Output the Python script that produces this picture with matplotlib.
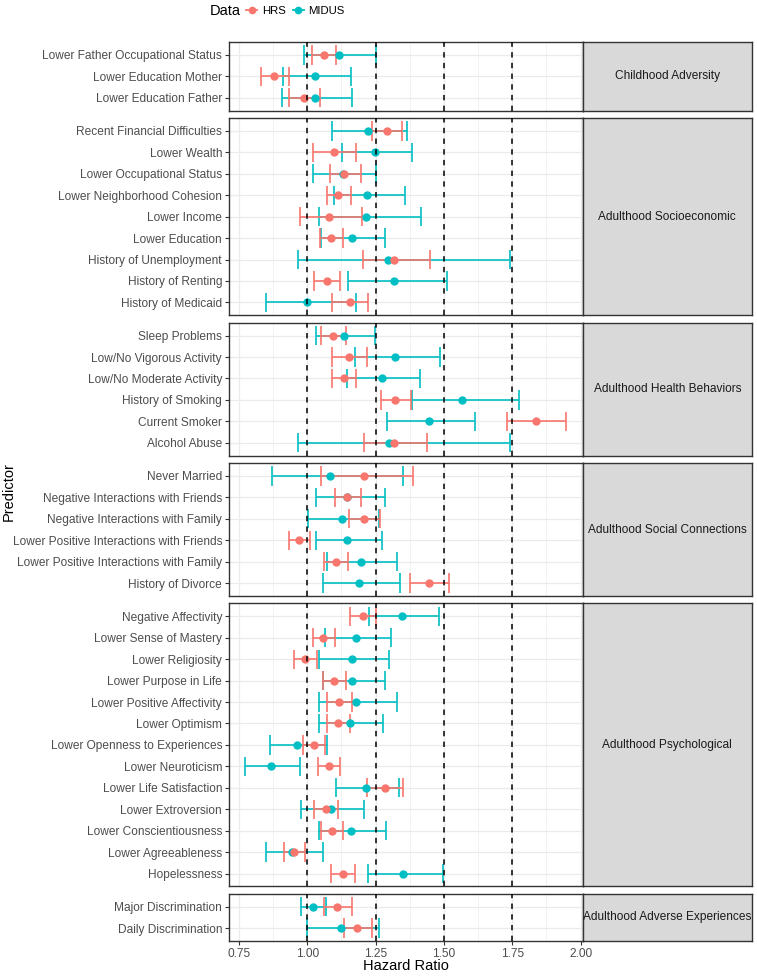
import numpy as np
import matplotlib
matplotlib.use("Agg")
import matplotlib.pyplot as plt
from matplotlib.lines import Line2D

plt.rcParams['font.family'] = ['Liberation Sans', 'DejaVu Sans']

# facet panels, top to bottom
domains = [
    "Childhood Adversity",
    "Adulthood Socioeconomic",
    "Adulthood Health Behaviors",
    "Adulthood Social Connections",
    "Adulthood Psychological",
    "Adulthood Adverse Experiences",
]

# predictors, in the order they are listed (top to bottom) inside each panel
predictors = [
    "Lower Father Occupational Status", "Lower Education Mother", "Lower Education Father",
    "Recent Financial Difficulties", "Lower Wealth", "Lower Occupational Status",
    "Lower Neighborhood Cohesion", "Lower Income", "Lower Education",
    "History of Unemployment", "History of Renting", "History of Medicaid",
    "Sleep Problems", "Low/No Vigorous Activity", "Low/No Moderate Activity",
    "History of Smoking", "Current Smoker", "Alcohol Abuse",
    "Never Married", "Negative Interactions with Friends", "Negative Interactions with Family",
    "Lower Positive Interactions with Friends", "Lower Positive Interactions with Family",
    "History of Divorce",
    "Negative Affectivity", "Lower Sense of Mastery", "Lower Religiosity",
    "Lower Purpose in Life", "Lower Positive Affectivity", "Lower Optimism",
    "Lower Openness to Experiences", "Lower Neuroticism", "Lower Life Satisfaction",
    "Lower Extroversion", "Lower Conscientiousness", "Lower Agreeableness", "Hopelessness",
    "Major Discrimination", "Daily Discrimination",
]
domain_of = ([0] * 3 + [1] * 9 + [2] * 6 + [3] * 6 + [4] * 13 + [5] * 2)

hrs_hr = [1.062, 0.880, 0.988,
          1.291, 1.099, 1.135, 1.114, 1.079, 1.088, 1.318, 1.072, 1.157,
          1.096, 1.153, 1.135, 1.322, 1.836, 1.318,
          1.206, 1.147, 1.207, 0.971, 1.105, 1.444,
          1.204, 1.058, 0.993, 1.097, 1.118, 1.112, 1.024, 1.079, 1.283,
          1.067, 1.091, 0.953, 1.131,
          1.109, 1.182]
hrs_lo = [1.019, 0.830, 0.932,
          1.238, 1.023, 1.082, 1.073, 0.973, 1.046, 1.203, 1.024, 1.092,
          1.050, 1.091, 1.091, 1.269, 1.732, 1.208,
          1.051, 1.101, 1.153, 0.932, 1.063, 1.375,
          1.158, 1.021, 0.953, 1.057, 1.072, 1.071, 0.984, 1.040, 1.220,
          1.026, 1.049, 0.916, 1.086,
          1.060, 1.134]
hrs_hi = [1.107, 0.933, 1.047,
          1.348, 1.179, 1.195, 1.159, 1.202, 1.131, 1.448, 1.120, 1.224,
          1.142, 1.220, 1.180, 1.381, 1.948, 1.439,
          1.386, 1.195, 1.266, 1.011, 1.150, 1.519,
          1.251, 1.101, 1.035, 1.141, 1.165, 1.155, 1.064, 1.120, 1.352,
          1.111, 1.130, 0.991, 1.175,
          1.163, 1.237]

midus_hr = [1.115, 1.028, 1.028,
            1.221, 1.248, 1.131, 1.218, 1.215, 1.163, 1.297, 1.319, 1.000,
            1.134, 1.321, 1.273, 1.566, 1.444, 1.298,
            1.082, 1.147, 1.128, 1.147, 1.195, 1.190,
            1.348, 1.178, 1.165, 1.165, 1.179, 1.156, 0.962, 0.866, 1.215,
            1.086, 1.159, 0.946, 1.352,
            1.022, 1.123]
midus_lo = [0.990, 0.911, 0.909,
            1.092, 1.129, 1.023, 1.097, 1.045, 1.051, 0.966, 1.151, 0.850,
            1.032, 1.176, 1.146, 1.383, 1.292, 0.968,
            0.870, 1.033, 1.002, 1.034, 1.071, 1.058,
            1.227, 1.064, 1.045, 1.056, 1.045, 1.045, 0.863, 0.773, 1.107,
            0.979, 1.043, 0.848, 1.223,
            0.977, 1.000]
midus_hi = [1.253, 1.159, 1.163,
            1.366, 1.382, 1.252, 1.356, 1.418, 1.283, 1.740, 1.513, 1.178,
            1.249, 1.485, 1.412, 1.773, 1.614, 1.742,
            1.349, 1.283, 1.264, 1.275, 1.328, 1.338,
            1.481, 1.305, 1.298, 1.283, 1.328, 1.279, 1.072, 0.972, 1.337,
            1.207, 1.287, 1.057, 1.496,
            1.068, 1.263]

ref_lines = [1.00, 1.25, 1.50, 1.75]
x_ticks = [0.75, 1.00, 1.25, 1.50, 1.75, 2.00]

HRS_COL = "#F8766D"
MIDUS_COL = "#00BFC4"

W, H = 757, 976
fig = plt.figure(figsize=(W / 100, H / 100), dpi=100)

counts = [domain_of.count(i) for i in range(len(domains))]
gs = fig.add_gridspec(
    len(domains), 2,
    height_ratios=[n + 0.2 for n in counts],
    width_ratios=[353.5, 169.5],
    left=229 / W, right=752 / W, top=1 - 42 / H, bottom=1 - 941 / H,
    hspace=0.052, wspace=0,
)

series = [
    ("MIDUS", MIDUS_COL, midus_hr, midus_lo, midus_hi),
    ("HRS", HRS_COL, hrs_hr, hrs_lo, hrs_hi),
]

for d, name in enumerate(domains):
    idx = [i for i, g in enumerate(domain_of) if g == d]
    n = len(idx)
    ypos = np.arange(n)[::-1]  # first predictor on top

    ax = fig.add_subplot(gs[d, 0])
    ax.set_xlim(0.714, 2.007)
    ax.set_ylim(-0.6, n - 0.4)

    # error bars first, points on top
    for lab, col, est, lo, hi in series:
        lo_v = np.array([lo[i] for i in idx])
        hi_v = np.array([hi[i] for i in idx])
        ax.hlines(ypos, lo_v, hi_v, color=col, lw=1.4, alpha=0.85, zorder=2)
        ax.vlines(lo_v, ypos - 0.45, ypos + 0.45, color=col, lw=1.4, alpha=0.85, zorder=2)
        ax.vlines(hi_v, ypos - 0.45, ypos + 0.45, color=col, lw=1.4, alpha=0.85, zorder=2)
    for lab, col, est, lo, hi in series:
        est_v = [est[i] for i in idx]
        ax.plot(est_v, ypos, "o", color=col, markersize=5.0, zorder=3)

    for xv in ref_lines:
        ax.axvline(xv, color="black", lw=1.1, linestyle=(0, (3.5, 3.5)), zorder=5)

    ax.set_xticks(x_ticks)
    ax.set_xticks([0.875, 1.125, 1.375, 1.625, 1.875], minor=True)
    ax.set_yticks(ypos)
    ax.set_yticklabels([predictors[i] for i in idx])
    ax.grid(which="major", color="#EBEBEB", lw=0.9)
    ax.grid(which="minor", axis="x", color="#EBEBEB", lw=0.45)
    ax.set_axisbelow(True)
    ax.tick_params(axis="y", length=2.75, width=0.8, color="#333333",
                   labelsize=8.6, labelcolor="#4D4D4D", pad=2.2)
    ax.tick_params(axis="x", which="minor", bottom=False)
    if d == len(domains) - 1:
        ax.set_xticklabels([f"{v:.2f}" for v in x_ticks])
        ax.tick_params(axis="x", length=2.75, width=0.8, color="#333333",
                       labelsize=8.6, labelcolor="#4D4D4D", pad=2.2)
    else:
        ax.tick_params(axis="x", bottom=False, labelbottom=False)
    for sp in ax.spines.values():
        sp.set_color("#333333")
        sp.set_linewidth(1.0)

    # facet strip on the right
    axs = fig.add_subplot(gs[d, 1])
    axs.set_facecolor("#D9D9D9")
    axs.set_xticks([])
    axs.set_yticks([])
    for sp in axs.spines.values():
        sp.set_color("#333333")
        sp.set_linewidth(1.0)
    axs.text(0.5, 0.5, name, ha="center", va="center", fontsize=8.6,
             color="#1A1A1A", transform=axs.transAxes)

fig.text(9 / W, 1 - 491.5 / H, "Predictor", rotation=90, ha="center",
         va="center", fontsize=10.5)
fig.text(405.75 / W, 1 - 966.5 / H, "Hazard Ratio", ha="center",
         va="center", fontsize=10.5)

# legend on top
fig.text(241 / W, 1 - 11 / H, "Data", ha="right", va="center", fontsize=10.5)
handles = [Line2D([], [], color=HRS_COL, marker="o", markersize=4.5, lw=1.3),
           Line2D([], [], color=MIDUS_COL, marker="o", markersize=4.5, lw=1.3)]
fig.legend(handles, ["HRS", "MIDUS"], ncol=2, loc="center left",
           bbox_to_anchor=(246 / W, 1 - 11 / H), frameon=False,
           fontsize=8.2, handlelength=1.0, handletextpad=0.4,
           columnspacing=0.6, borderpad=0, borderaxespad=0)

fig.savefig("out.png", dpi=100)
